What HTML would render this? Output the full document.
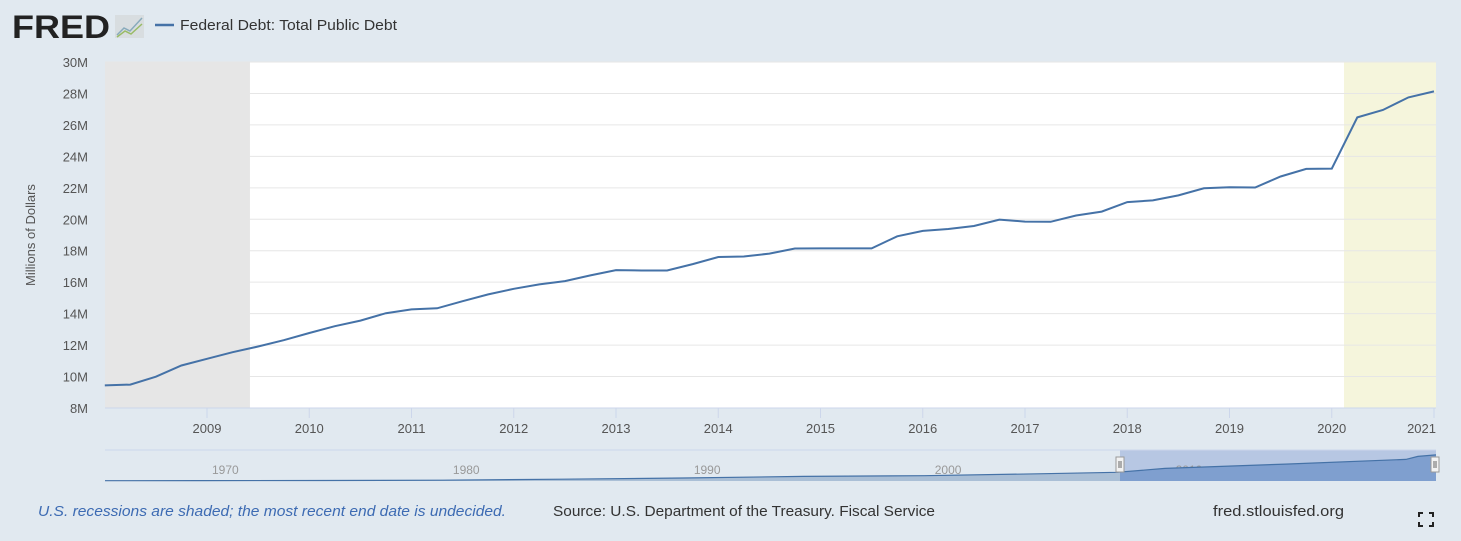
<!DOCTYPE html>
<html><head><meta charset="utf-8"><style>
body{margin:0;width:1461px;height:541px;background:#e1e9f0;font-family:"Liberation Sans",sans-serif;overflow:hidden}
svg{position:absolute;left:0;top:0}
</style></head><body>
<svg width="1461" height="541">
<rect x="0" y="0" width="1461" height="541" fill="#e1e9f0"/>
<text x="12" y="38" font-size="32" font-weight="bold" fill="#222" textLength="98" lengthAdjust="spacingAndGlyphs">FRED</text>
<g><rect x="115" y="15" width="29" height="23" fill="#d8dde0"/><polyline points="117,35 124,28 130,31 142,18" fill="none" stroke="#8ab" stroke-width="1.5"/><polyline points="117,37 125,31 131,34 142,24" fill="none" stroke="#9b6" stroke-width="1.5"/></g>
<line x1="155" y1="25" x2="174" y2="25" stroke="#4572a7" stroke-width="2.5"/>
<text x="180" y="30" font-size="15" fill="#333" textLength="217" lengthAdjust="spacingAndGlyphs">Federal Debt: Total Public Debt</text>
<rect x="105" y="62" width="1331" height="346" fill="#fff"/>
<g id="rec"></g><g id="grid"></g><g id="xt"></g>
<text transform="translate(35,235) rotate(-90)" text-anchor="middle" font-size="13" fill="#555">Millions of Dollars</text>
<path id="line" fill="none" stroke="#4572a7" stroke-width="2"/>
<g id="nav"></g>
<text x="38" y="516" font-size="15" font-style="italic" fill="#3d6bb3" textLength="468" lengthAdjust="spacingAndGlyphs">U.S. recessions are shaded; the most recent end date is undecided.</text>
<text x="553" y="516" font-size="15" fill="#333" textLength="382" lengthAdjust="spacingAndGlyphs">Source: U.S. Department of the Treasury. Fiscal Service</text>
<text x="1213" y="516" font-size="15" fill="#333" textLength="131" lengthAdjust="spacingAndGlyphs">fred.stlouisfed.org</text>
<g stroke="#222" stroke-width="2" fill="none"><path d="M1419,517v-4h4M1429,513h4v4M1433,522v4h-4M1423,526h-4v-4"/></g>
</svg>
<script>
const yTicks=[8,10,12,14,16,18,20,22,24,26,28,30];
const yearTicks=[2009,2010,2011,2012,2013,2014,2015,2016,2017,2018,2019,2020,2021];
const dates=[];for(let i=0;i<53;i++)dates.push(2008+i*0.25);
const debt=[9.44,9.49,9.99,10.70,11.13,11.55,11.91,12.31,12.77,13.20,13.56,14.03,14.27,14.34,14.79,15.22,15.58,15.86,16.07,16.43,16.77,16.74,16.74,17.15,17.60,17.63,17.82,18.14,18.15,18.15,18.15,18.92,19.26,19.38,19.57,19.98,19.85,19.84,20.24,20.49,21.09,21.20,21.52,21.97,22.03,22.02,22.72,23.20,23.22,26.48,26.95,27.75,28.13];
const recessions=[[2007.9,2009.42],[2020.12,2021.25]];
const navYears=[1966,1970,1975,1980,1985,1990,1995,2000,2005,2008,2010,2015,2020,2020.5,2021.25];
const navDebt=[0.32,0.38,0.55,0.91,1.9,3.2,4.9,5.7,7.9,9.4,13.6,18.2,23.2,26.5,28.1];
const navLabels=[1970,1980,1990,2000,2010];
const NS='http://www.w3.org/2000/svg';
const X0=105,X1=1436,Y0=408,Y1=62;
const x=d=>104.75+(d-2008)*102.25;
const y=v=>Y0-(v-8)/(30-8)*(Y0-Y1);
function mk(t,a,p){const e=document.createElementNS(NS,t);for(const k in a)e.setAttribute(k,a[k]);p.appendChild(e);return e;}
const rec=document.getElementById('rec');
recessions.forEach((r,i)=>{const a=Math.max(x(r[0]),X0),b=Math.min(x(r[1]),X1);
const e=mk('rect',{x:a,y:Y1,width:b-a,height:Y0-Y1,fill:i?'#f5f5dc':'#e6e6e6'},rec);

});
const grid=document.getElementById('grid');
yTicks.forEach(v=>{if(v>8){const l=mk('line',{x1:X0,x2:X1,y1:y(v),y2:y(v),stroke:'#e6e6e6'},grid);

}
const t=mk('text',{x:88,y:y(v)+5,'text-anchor':'end','font-size':13,fill:'#555'},grid);t.textContent=v+'M';

});
const xt=document.getElementById('xt');
yearTicks.forEach(yr=>{const l=mk('line',{x1:x(yr),x2:x(yr),y1:Y0,y2:Y0+10,stroke:'#ccd6eb'},xt);


const last=x(yr)+16>X1;
const t=mk('text',{x:last?X1:x(yr),y:433,'text-anchor':last?'end':'middle','font-size':13,fill:'#555'},xt);t.textContent=yr;

});
mk('line',{x1:X0,x2:X1,y1:Y0,y2:Y0,stroke:'#ccd6eb'},xt);
document.getElementById('line').setAttribute('d',dates.map((d,i)=>(i?'L':'M')+x(d).toFixed(1)+','+y(debt[i]).toFixed(1)).join(''));
const nav=document.getElementById('nav');
const NT=450,NB=481;
const nx=d=>X0+(d-1966)/(2021.25-1966)*(X1-X0);
const ny=v=>NB-v/30*(NB-NT)*0.9;
const selA=1120,selB=X1;
const s=mk('rect',{x:selA,y:NT,width:selB-selA,height:NB-NT,fill:'#b7c7e3'},nav);


mk('line',{x1:X0,x2:X1,y1:NT,y2:NT,stroke:'#ccd6eb'},nav);
navLabels.forEach(yr=>{const t=mk('text',{x:nx(yr)+24,y:474,'text-anchor':'middle','font-size':12,fill:'#999'},nav);t.textContent=yr;

});
let p=navYears.map((d,i)=>(i?'L':'M')+nx(d).toFixed(1)+','+ny(navDebt[i]).toFixed(1)).join('');
const area=mk('path',{d:p+`L${X1},${NB}L${X0},${NB}Z`,fill:'rgba(69,114,167,0.35)',stroke:'none'},nav);


const cp=mk('clipPath',{id:'selclip'},nav);mk('rect',{x:selA,y:NT,width:selB-selA,height:NB-NT},cp);
const sa=mk('path',{d:p+`L${X1},${NB}L${X0},${NB}Z`,fill:'#7f9fcf','clip-path':'url(#selclip)'},nav);


const nl=mk('path',{d:p,fill:'none',stroke:'#4572a7','stroke-width':1.2},nav);


[selA,selB-1].forEach((hx,i)=>{const h=mk('rect',{x:hx-4,y:457,width:8,height:15,fill:'#f2f2f2',stroke:'#999'},nav);


mk('path',{d:`M${hx-1},461v7M${hx+1},461v7`,stroke:'#666'},nav);});
</script>
</body></html>
